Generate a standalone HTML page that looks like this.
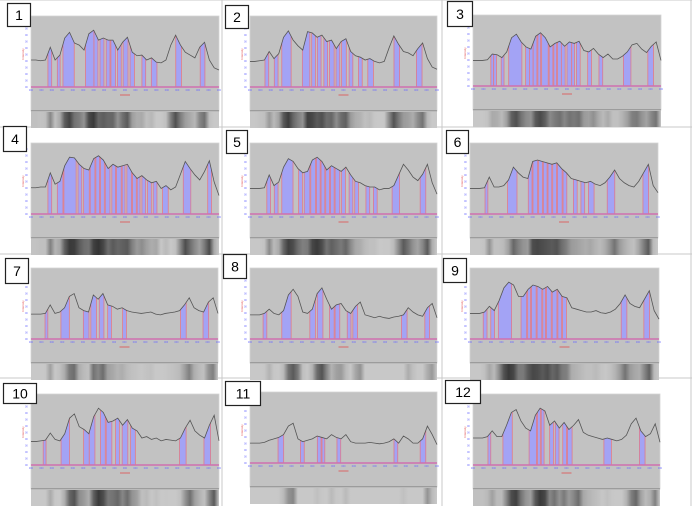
<!DOCTYPE html>
<html><head><meta charset="utf-8"><style>
html,body{margin:0;padding:0;background:#fff;}
svg{display:block;}
</style></head><body>
<svg id="fig" width="692" height="506" viewBox="0 0 692 506" xmlns="http://www.w3.org/2000/svg"></svg>
<script>
// Lane profile intensities (0-100, sampled uniformly across each lane)
const P1=[38,38,37,38,56,38,45,69,77,62,59,52,75,80,66,69,66,66,52,63,70,49,44,45,38,41,35,34,38,59,73,59,49,45,41,56,63,38,27,24];
const P2=[36,36,37,38,50,40,47,70,79,66,58,52,78,76,70,73,64,66,54,64,68,50,44,42,38,40,36,34,36,55,72,60,50,48,44,54,62,40,28,25];
const P3=[36,36,36,37,45,44,40,48,68,73,62,55,52,70,75,68,55,60,63,56,62,60,63,50,48,53,45,40,45,38,38,42,48,58,60,52,47,56,62,36];
const P4=[37,37,38,38,58,42,46,68,80,79,70,64,62,78,82,76,64,70,66,68,70,58,50,54,48,44,46,36,40,34,38,56,74,64,55,48,60,75,45,26];
const P5=[36,36,36,37,55,40,45,66,78,74,64,58,60,76,80,74,62,68,64,60,66,55,46,44,40,38,38,34,36,36,40,55,70,62,52,47,56,70,44,28];
const P6=[36,36,36,37,52,38,38,40,48,66,58,52,50,74,76,74,72,70,72,64,58,50,48,46,44,46,42,40,44,52,62,50,44,40,38,46,58,70,40,30];
const P7=[35,35,35,36,48,36,38,44,60,64,44,40,38,62,56,64,48,46,42,44,40,38,37,36,37,38,35,34,36,37,38,40,48,58,44,40,38,52,58,36];
const P8=[34,34,34,36,42,36,34,40,62,70,60,38,36,42,64,72,56,42,48,50,40,36,46,52,34,32,30,32,30,29,31,32,34,44,38,34,32,44,50,30];
const P9=[36,36,36,38,46,40,54,72,80,76,60,60,70,76,74,70,74,66,70,60,58,44,42,40,38,38,40,37,36,38,42,50,62,50,46,44,56,68,40,28];
const P10=[33,33,34,35,45,36,34,44,66,72,54,50,44,68,80,74,60,62,66,56,64,52,48,38,40,36,38,34,36,35,34,38,52,63,48,42,38,56,70,34];
const P11=[28,28,28,29,32,34,36,40,52,56,34,30,32,34,38,36,34,40,36,34,40,30,28,28,28,29,28,27,28,30,34,28,38,34,28,28,34,52,40,26];
const P12=[38,38,38,40,48,40,40,56,74,78,62,52,48,70,80,76,56,62,52,60,50,56,64,46,42,40,38,36,38,36,34,36,42,58,66,48,40,44,58,32];
// Detected peaks: [start%, end%] of lane
const K1=[[9,11],[14,15.5],[17,23],[29,33.5],[33.5,35.6],[36.7,38.8],[40,42],[42.5,45],[46,48],[49,51.6],[52.7,55],[59,61],[64,67],[77,80],[90,92.5]];
const K2=[[8,10],[13,15],[17,22],[28,32],[33,35],[36,38],[39.5,41.5],[42.5,45],[46,48],[49,51.5],[53,55],[58,60],[63,66],[77,80],[89,92]];
const K3=[[9.5,11],[11,12.5],[15,16.5],[19,26],[28,30],[30,32],[32,34],[34.5,36],[36.5,40],[40.5,42.5],[43,44.5],[45,47],[47,49],[50,52.5],[52.5,54],[55,57],[61,63],[67,69],[80,84],[93,96]];
const K4=[[9,11],[14,17],[17.5,24],[25,27],[28,31],[31.5,34],[34.5,36.5],[37,39],[39.5,42],[43,45],[45.5,48],[48.5,50],[51,53.5],[54,56],[56.5,58],[59,61],[62,64],[65,67],[70,73],[81,85],[94,96]];
const K5=[[9,11],[13,15],[17,23],[26,28],[29,32],[32.5,35],[35.5,37.5],[38,40],[40.5,42.5],[43,45],[45.5,48],[49,51],[53,55],[56,58],[62,64],[66,68],[76,80],[91,94]];
const K6=[[8,9.5],[20,25],[31,33],[33.5,36],[36.5,38.5],[39,41],[41.5,43.5],[44,46],[46.5,49],[49.5,51.5],[55,57],[59,61],[63,66],[73,77],[92,95]];
const K7=[[7.5,9],[16,20.5],[28,31],[32,35],[36.5,39],[41,43],[49,51],[80,83],[92,95]];
const K8=[[7,9],[17,22],[32,35],[36,39],[42.5,45],[45.5,48],[52,54],[55,57.5],[81,84],[93.5,96]];
const K9=[[7,9],[11,13],[15,22],[27,30],[30.5,32],[32.5,35],[35.5,38],[38.5,40],[40.5,43],[43.5,46],[46.5,48.5],[49,51],[80,83],[92,95]];
const K10=[[6.5,8],[16,20.5],[28,31],[31,34],[37,39.5],[40,43],[45,47],[48.5,51.5],[53,55.5],[79,82.5],[92,95.5]];
const K11=[[15,18],[27,29],[36,38],[38.5,40],[46.5,48.5],[77,79],[91,94]];
const K12=[[8,9.5],[16,21],[30,34],[34.5,36],[36.5,38],[41,43],[44,46],[48,50],[50.5,53],[70,74],[89,92]];
const labels=["1","2","3","4","5","6","7","8","9","10","11","12"];
const profiles=[P1,P2,P3,P4,P5,P6,P7,P8,P9,P10,P11,P12];
const peaks=[K1,K2,K3,K4,K5,K6,K7,K8,K9,K10,K11,K12];

// layout (not data)
const L=[
 {lx:7,ly:3,lw:23,lh:23,x:31,y:16,w:188},
 {lx:225,ly:5,lw:23,lh:23,x:250,y:16,w:187},
 {lx:447,ly:1,lw:25,lh:25,x:473,y:15,w:188},
 {lx:3,ly:126,lw:23,lh:25,x:31,y:143,w:188},
 {lx:226,ly:130,lw:21,lh:23,x:250,y:143,w:187},
 {lx:446,ly:130,lw:22,lh:23,x:470,y:143,w:188},
 {lx:5,ly:258,lw:23,lh:25,x:31,y:268,w:187},
 {lx:223,ly:254,lw:23,lh:24,x:250,y:268,w:187},
 {lx:443,ly:258,lw:23,lh:24,x:470,y:268,w:189},
 {lx:3,ly:383,lw:33,lh:20,x:31,y:394,w:188},
 {lx:225,ly:381,lw:35,lh:24,x:250,y:392,w:187},
 {lx:445,ly:380,lw:35,lh:23,x:473,y:394,w:187}
];
const NS="http://www.w3.org/2000/svg";
const svg=document.getElementById('fig');
function mk(tag,attrs,parent){const e=document.createElementNS(NS,tag);for(const k in attrs)e.setAttribute(k,attrs[k]);(parent||svg).appendChild(e);return e;}

const gl=mk('g',{});


[[222,0,222,127],[442,0,442,127],[222,127,222,254],[442,127,442,254],[222,254,222,378],[442,254,442,378],[222,378,222,506],[442,378,442,506],[0,127,692,127],[0,254,692,254],[0,378,692,378],[691,0,691,506],[0,0,692,0]].forEach(s=>mk('line',{x1:s[0],y1:s[1],x2:s[2],y2:s[3],stroke:'#c8c8c8','stroke-width':1},gl));

profiles.forEach((prof,pi)=>{
  const c=L[pi];
  const g=mk('g',{});
  
  
  const H=71, base=c.y+H;
  const xs=f=>c.x+c.w*f/100;
  const ys=v=>base-H*v/100;
  const val=f=>{const t=f/100*(prof.length-1);const i=Math.min(prof.length-2,Math.floor(t));const r=t-i;return prof[i]*(1-r)+prof[i+1]*r;};
  const bg=mk('rect',{x:c.x,y:c.y,width:c.w,height:95,fill:'#c2c2c2',stroke:'#d4d4d4','stroke-width':0.8},g);
  
  
  mk('line',{x1:c.x,y1:c.y+95,x2:c.x+c.w,y2:c.y+95,stroke:'#777','stroke-width':1},g);
  for(let k=0;k<=10;k++){mk('text',{x:c.x-6,y:base-k*6.5+1,'font-size':2.5,fill:'#6a6aff','font-family':'Liberation Sans, sans-serif'},g).textContent='00';}
  const yl=mk('text',{x:c.x-7,y:c.y+38,'font-size':3,fill:'#e05050','font-family':'Liberation Sans, sans-serif',transform:`rotate(-90 ${c.x-7} ${c.y+38})`,'text-anchor':'middle'},g);
  yl.textContent='Intensity';
  
  
  peaks[pi].forEach((pk,ki)=>{
    let d=`M${xs(pk[0])},${base}`;
    for(let f=pk[0];f<=pk[1]+0.001;f+=0.25)d+=` L${xs(f).toFixed(2)},${ys(val(f)).toFixed(2)}`;
    d+=` L${xs(pk[1])},${base} Z`;
    const p=mk('path',{d:d,fill:'#a3a3f5'},g);
    
    
    mk('line',{x1:xs(pk[0]),y1:base,x2:xs(pk[0]),y2:ys(val(pk[0])),stroke:'#e07a8a','stroke-width':0.8},g);
    mk('line',{x1:xs(pk[1]),y1:base,x2:xs(pk[1]),y2:ys(val(pk[1])),stroke:'#e07a8a','stroke-width':0.8},g);
  });
  let d='';
  prof.forEach((v,i)=>{d+=(i?' L':'M')+xs(i/(prof.length-1)*100).toFixed(2)+','+ys(v).toFixed(2);});
  const pl=mk('path',{d:d,fill:'none',stroke:'#555','stroke-width':0.8},g);
  
  
  const bl=mk('line',{x1:c.x,y1:base,x2:c.x+c.w,y2:base,stroke:'#d070b0','stroke-width':1.5},g);
  
  
  for(let k=0;k<=18;k++){mk('text',{x:c.x+k*c.w/18,y:base+4,'font-size':2.5,fill:'#6a6aff','text-anchor':'middle','font-family':'Liberation Sans, sans-serif'},g).textContent='000';}
  const xl=mk('line',{x1:c.x+c.w/2-5,y1:base+8,x2:c.x+c.w/2+5,y2:base+8,stroke:'#e05050','stroke-width':0.8},g);
  
  
  const gid='gel'+pi;
  const grad=mk('linearGradient',{id:gid,x1:0,y1:0,x2:1,y2:0},g);
  prof.forEach((v,i)=>{const s=Math.max(40,Math.min(200,Math.round(205-(v-34)*3.2)));mk('stop',{offset:(i/(prof.length-1)).toFixed(3),'stop-color':`rgb(${s},${s},${s})`},grad);});
  const gr=mk('rect',{x:c.x,y:c.y+96,width:c.w,height:16,fill:`url(#${gid})`},g);
  
  
  const lb=mk('rect',{x:c.lx+0.5,y:c.ly+0.5,width:c.lw,height:c.lh,fill:'#fff',stroke:'#222','stroke-width':1.2},g);
  
  
  const lt=mk('text',{x:c.lx+c.lw/2+0.5,y:c.ly+c.lh/2+5.5,'font-size':14,'text-anchor':'middle',fill:'#000','font-family':'Liberation Sans, sans-serif'},g);
  lt.textContent=labels[pi];
  
  
});
</script>
</body></html>
